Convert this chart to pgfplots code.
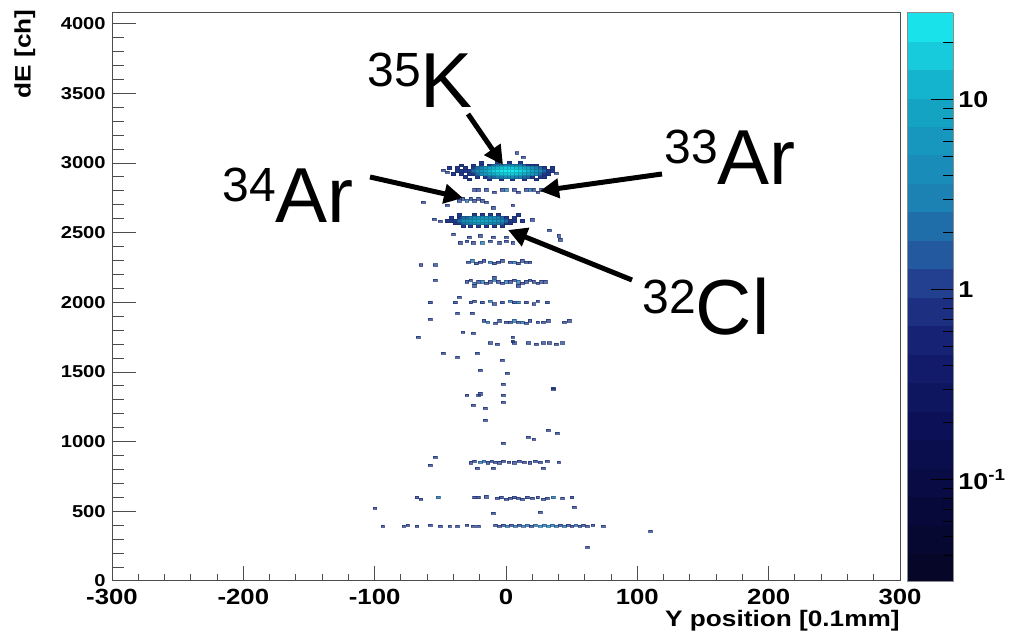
\documentclass[border=0pt]{standalone}
\usepackage{fontspec}
\usepackage{pgfplots}
\usepackage{pgfplotstable}
\pgfplotsset{compat=1.18}
\usetikzlibrary{arrows.meta}
\setmainfont{Liberation Sans}
\newfontfamily\rootfont{Liberation Sans}[FakeStretch=1.17]
\newcommand\rootb[1]{\rootfont\bfseries\fontsize{#1}{#1}\selectfont}

\pgfplotsset{
  colormap={rootbase}{rgb(0cm)=(0.02,0.02,0.14) rgb(1.5cm)=(0.03,0.04,0.25)
    rgb(2.9cm)=(0.05,0.07,0.35) rgb(4.1cm)=(0.08,0.12,0.44) rgb(5.1cm)=(0.13,0.22,0.54)
    rgb(5.7cm)=(0.14,0.34,0.62) rgb(6.7cm)=(0.11,0.5,0.7) rgb(8.5cm)=(0.08,0.66,0.78)
    rgb(10cm)=(0.1,0.93,0.95)},
}

% sparse bins (count n per bin)
\pgfplotstableread[row sep=\\]{
x y n\\
-40 2490 1\\ -28 2470 1\\ -20 2480 1\\ -10 2470 1\\ 0 2470 1\\ 8 2490 1\\ 13 2470 1\\ 40 2480 1\\
-35 2430 1\\ -30 2440 1\\ -25 2430 1\\ -18 2430 2\\ -12 2440 1\\ -5 2430 1\\ 0 2440 1\\ 5 2430 1\\ 41 2450 1\\
-65 2270 1\\ -54 2270 1\\ -29 2290 1\\ -26 2300 2\\ -23 2280 1\\ -20 2290 1\\ -17 2300 1\\ -12 2290 2\\
-9 2280 1\\ -6 2290 1\\ -3 2300 1\\ 3 2290 1\\ 6 2290 2\\ 9 2280 1\\ 12 2300 1\\ 15 2290 1\\ 18 2290 1\\
-54 2160 1\\ -30 2150 1\\ -27 2160 1\\ -24 2140 2\\ -21 2150 1\\ -18 2150 2\\ -15 2140 1\\ -12 2150 1\\
-9 2160 2\\ -6 2150 1\\ -3 2140 1\\ 0 2150 2\\ 3 2150 1\\ 6 2160 1\\ 9 2150 2\\ 12 2140 1\\ 15 2150 1\\
18 2160 1\\ 21 2150 1\\ 24 2140 1\\ 27 2150 1\\ 30 2150 1\\ -24 2120 1\\ -9 2180 1\\ 9 2120 1\\
-39 2000 1\\ -36 2040 1\\ -27 2000 1\\ -24 2010 1\\ -18 2000 1\\ -12 2010 2\\ -9 1990 1\\ -3 2000 1\\
3 2010 2\\ 6 2000 1\\ 9 2000 2\\ 15 2000 1\\ 21 1990 1\\ 24 2010 1\\ 31 2000 1\\ -58 2000 1\\ -37 1925 1\\ -26 1925 1\\
-17 1870 1\\ -14 1860 2\\ -8 1850 1\\ -5 1870 1\\ 0 1860 1\\ 3 1860 1\\ 6 1870 2\\ 9 1860 1\\ 12 1860 2\\
15 1850 1\\ 18 1870 1\\ 24 1860 1\\ 28 1860 1\\ 32 1870 1\\ 44 1860 1\\ 48 1870 1\\ -58 1880 1\\
-12 1710 1\\ -7 1700 1\\ 6 1710 1\\ 17 1710 1\\ 23 1700 1\\ 28 1710 1\\ 33 1710 1\\ 38 1700 1\\ 43 1710 1\\
-67 1752 1\\ -33 1788 1\\ -25 1780 1\\ 5 1752 1\\ 5 1720 1\\
-48 1637 1\\ -37 1608 1\\ -22 1637 1\\ -3 1587 1\\ -20 1515 1\\ 1 1494 1\\ 36 1386 1\\ -2 1415 1\\ 36 1379 1\\
-30 1336 1\\ -21 1336 1\\ -20 1345 1\\ -2 1336 1\\ -25 1264 1\\ -16 1242 1\\ -2 1285 1\\ -16 1156 1\\
32 1084 1\\ 39 1063 1\\ 17 1034 1\\ 21 1020 1\\ -2 991 1\\
-54 890 1\\ -58 833 1\\ -27 850 1\\ -24 860 1\\ -20 855 2\\ -17 860 2\\ -14 850 1\\ -11 860 1\\ -8 855 1\\
-5 850 1\\ -2 860 1\\ 2 855 1\\ 6 850 1\\ 10 860 1\\ 14 855 1\\ 18 850 1\\ 22 860 1\\ 26 855 1\\ 31 860 1\\
40 855 1\\ -22 812 1\\ -10 812 1\\ 28 812 1\\
-68 600 1\\ -65 590 1\\ -52 600 2\\ -24 600 1\\ -21 600 1\\ -15 606 1\\ -7 596 1\\ -4 600 1\\ 0 590 1\\
3 596 1\\ 6 600 1\\ 9 596 1\\ 12 590 1\\ 16 600 1\\ 20 596 1\\ 24 600 1\\ 28 590 1\\ 31 596 1\\ 36 600 2\\
43 596 1\\ 50 600 1\\ 52 531 1\\ -10 488 1\\ 26 495 1\\ -100 524 1\\
-94 395 1\\ -78 395 1\\ -75 400 1\\ -68 395 1\\ -58 400 1\\ -50 395 1\\ -43 395 1\\ -37 395 1\\ -30 400 1\\
-25 395 1\\ -21 395 1\\ -8 400 1\\ -5 395 1\\ -2 400 1\\ 1 395 2\\ 4 400 1\\ 7 395 2\\ 10 400 1\\ 13 395 2\\
16 400 2\\ 19 395 1\\ 22 400 2\\ 26 395 3\\ 29 400 2\\ 32 395 3\\ 35 400 2\\ 38 395 2\\ 41 400 1\\ 44 395 2\\
47 400 1\\ 50 395 1\\ 53 400 2\\ 56 395 1\\ 59 400 1\\ 62 395 1\\ 66 400 1\\ 74 395 1\\ 62 244 1\\ 110 360 1\\
-24 2810 1\\ -21 2810 1\\ -15 2810 1\\ -9 2790 1\\ -3 2810 1\\ 0 2810 2\\ 6 2810 1\\ 9 2790 1\\ 15 2810 1\\
18 2810 2\\ 21 2810 1\\ 24 2790 1\\ 27 2810 1\\
-36 2730 1\\ -33 2745 1\\ -30 2730 2\\ -27 2745 1\\ -24 2730 1\\ -21 2745 1\\ -18 2730 1\\ -15 2720 1\\
-63 2722 1\\ -45 2700 1\\ -10 2680 1\\ 5 2700 1\\
-55 2600 1\\ -50 2585 1\\ 20 2595 1\\ 13 2520 1\\ 33 2520 1\\
-48 2950 1\\ -45 2937 1\\ 8 3074 1\\ 13 3045 1\\ 38 2930 1\\
}\sparse

% 32Cl peak
\pgfplotstableread[row sep=\\]{
x y n\\
-33 2550 1\\ -27 2550 1\\ -21 2550 1\\ -15 2550 1\\ -9 2550 1\\ -3 2550 1\\
-36 2630 1\\ -24 2630 1\\ -18 2630 1\\ -12 2630 1\\ -6 2630 1\\ 9 2630 1\\
-39 2570 1\\ -36 2570 1\\ -33 2570 2\\ -30 2570 3\\ -27 2570 3\\ -24 2570 4\\ -21 2570 5\\ -18 2570 5\\
-15 2570 5\\ -12 2570 4\\ -9 2570 3\\ -6 2570 3\\ -3 2570 2\\ 0 2570 1\\ 3 2570 1\\
-42 2610 1\\ -36 2610 1\\ -33 2610 2\\ -30 2610 2\\ -27 2610 3\\ -24 2610 4\\ -21 2610 5\\ -18 2610 5\\
-15 2610 5\\ -12 2610 4\\ -9 2610 4\\ -6 2610 3\\ -3 2610 2\\ 0 2610 1\\ 6 2610 1\\
-45 2590 1\\ -42 2590 1\\ -39 2590 1\\ -36 2590 2\\ -33 2590 4\\ -30 2590 5\\ -27 2590 6\\ -24 2590 8\\
-21 2590 9\\ -18 2590 9\\ -15 2590 9\\ -12 2590 8\\ -9 2590 6\\ -6 2590 5\\ -3 2590 4\\ 0 2590 2\\
3 2590 1\\ 6 2590 1\\ 12 2590 1\\
}\clpeak

% 35K peak
\pgfplotstableread[row sep=\\]{
x y n\\
-28 2885 1\\ -13 2885 1\\ -4 2885 1\\ 5 2885 1\\ 14 2885 1\\ 23 2885 1\\
-19 3005 1\\ -7 3005 1\\ 2 3005 1\\ 11 3005 1\\
-31 2905 1\\ -22 2905 1\\ -16 2905 1\\ -13 2905 2\\ -10 2905 2\\ -7 2905 3\\ -4 2905 3\\ -1 2905 4\\
2 2905 4\\ 5 2905 4\\ 8 2905 3\\ 11 2905 3\\ 14 2905 2\\ 17 2905 2\\ 20 2905 1\\ 26 2905 1\\ 29 2905 1\\
-34 2985 1\\ -25 2985 1\\ -19 2985 1\\ -13 2985 1\\ -10 2985 2\\ -7 2985 3\\ -4 2985 3\\ -1 2985 4\\
2 2985 4\\ 5 2985 3\\ 8 2985 3\\ 11 2985 3\\ 14 2985 2\\ 17 2985 1\\ 20 2985 1\\ 23 2985 1\\
-40 2925 1\\ -34 2925 1\\ -28 2925 1\\ -25 2925 1\\ -22 2925 2\\ -19 2925 4\\ -16 2925 6\\ -13 2925 8\\
-10 2925 10\\ -7 2925 13\\ -4 2925 15\\ -1 2925 16\\ 2 2925 17\\ 5 2925 16\\ 8 2925 15\\ 11 2925 13\\
14 2925 10\\ 17 2925 8\\ 20 2925 6\\ 23 2925 4\\ 26 2925 2\\ 29 2925 1\\ 32 2925 1\\
-43 2965 1\\ -37 2965 1\\ -31 2965 1\\ -25 2965 1\\ -22 2965 2\\ -19 2965 3\\ -16 2965 6\\ -13 2965 8\\
-10 2965 11\\ -7 2965 13\\ -4 2965 15\\ -1 2965 17\\ 2 2965 17\\ 5 2965 16\\ 8 2965 14\\ 11 2965 12\\
14 2965 10\\ 17 2965 8\\ 20 2965 5\\ 23 2965 3\\ 26 2965 2\\ 29 2965 1\\ 35 2965 1\\
-37 2945 1\\ -34 2945 1\\ -31 2945 1\\ -28 2945 1\\ -25 2945 2\\ -22 2945 4\\ -19 2945 6\\ -16 2945 9\\
-13 2945 13\\ -10 2945 17\\ -7 2945 21\\ -4 2945 25\\ -1 2945 27\\ 2 2945 28\\ 5 2945 27\\ 8 2945 25\\
11 2945 21\\ 14 2945 17\\ 17 2945 13\\ 20 2945 9\\ 23 2945 6\\ 26 2945 4\\ 29 2945 2\\ 32 2945 1\\ 35 2945 1\\
}\kpeak

\begin{document}
\begin{tikzpicture}
\begin{axis}[
  at={(56pt,30pt)}, anchor=south west,
  width=394pt, height=284.2pt, scale only axis,
  xmin=-300, xmax=300, ymin=0, ymax=4080,
  axis on top,
  axis line style={black!70, line width=0.5pt},
  tick style={black!70, line width=0.5pt},
  tick align=inside, tick pos=left,
  xtick={-300,-200,...,300}, minor x tick num=4,
  xticklabels={-300,-200,-100,0,100,200,300},
  ymajorticks=false, yminorticks=false,
  major tick length=7.5pt, minor tick length=3.5pt,
  xticklabel style={font={\rootb{11}}, inner sep=0pt, yshift=-4pt},
  xlabel={Y position [0.1mm]},
  xlabel style={at={([yshift=-22.65pt]rel axis cs:1,0)}, anchor=base east, inner sep=0pt, font={\rootb{11.2}}},
  ylabel={dE [ch]},
  ylabel style={at={([xshift=-40.75pt,yshift=1.75pt]rel axis cs:0,1)}, anchor=base east, inner sep=0pt, font={\rootb{11.2}}},
  colormap name=rootbase,
  point meta min=-1.537, point meta max=1.458,
  colorbar sampled,
  colorbar style={
    at={(parent axis.north east)}, anchor=north west, xshift=-5.04pt,
    width=23pt, height=284.6pt, scale only axis, samples=21,
    axis line style={black!45, line width=0.4pt},
    tick style={black, line width=0.5pt},
    tick align=inside, ytick pos=right, yticklabel pos=right,
    major tick length=11pt, minor tick length=5pt,
    ytick={-1,0,1}, yticklabels={10\textsuperscript{-1},1,10},
    minor ytick={-1.39794,-1.30103,-1.22185,-1.15490,-1.09691,-1.04576,
      -0.69897,-0.52288,-0.39794,-0.30103,-0.22185,-0.15490,-0.09691,-0.04576,
      0.30103,0.47712,0.60206,0.69897,0.77815,0.84510,0.90309,0.95424,1.30103},
    yticklabel style={font={\rootb{11.5}}, inner sep=0pt, anchor=west, xshift=2.5pt},
  },
]
\addplot[scatter, only marks, mark=square*, mark size=0.95pt,
  mark options={yscale=0.62, line width=0.1pt, opacity=0.72},
  point meta={log10(\thisrow{n})}] table[x=x, y=y] {\sparse};
\addplot[scatter, only marks, mark=square*, mark size=1pt,
  mark options={yscale=0.72, line width=0.1pt},
  point meta={log10(\thisrow{n})}] table[x=x, y=y] {\clpeak};
\addplot[scatter, only marks, mark=square*, mark size=1pt,
  mark options={yscale=0.72, line width=0.1pt},
  point meta={log10(\thisrow{n})}] table[x=x, y=y] {\kpeak};
\end{axis}
% y ticks (longer than the x ticks, as in ROOT)
\begin{axis}[
  at={(56pt,30pt)}, anchor=south west,
  width=394pt, height=284.2pt, scale only axis,
  xmin=-300, xmax=300, ymin=0, ymax=4080,
  axis line style={black!70, line width=0.5pt},
  tick style={black!70, line width=0.5pt},
  tick align=inside, tick pos=left,
  xmajorticks=false, xminorticks=false,
  ytick={0,500,...,4000}, minor y tick num=4,
  yticklabels={0,500,1000,1500,2000,2500,3000,3500,4000},
  major tick length=12pt, minor tick length=6pt,
  yticklabel style={font={\rootb{8.6}}, inner sep=0pt, anchor=east, xshift=-3pt},
]
\end{axis}
% annotations, in image pixels
\begin{scope}[x=0.5pt, y=-0.5pt, shift={(0pt,320.5pt)}]
  \draw[line width=2.5pt, -{Triangle[length=9.5pt,width=9.5pt]}] (468,114) -- (503,165);
  \draw[line width=2.5pt, -{Triangle[length=9.5pt,width=9.5pt]}] (370,177) -- (463,198);
  \draw[line width=2.5pt, -{Triangle[length=9.5pt,width=9.5pt]}] (662,174) -- (540,191);
  \draw[line width=2.5pt, -{Triangle[length=9.5pt,width=9.5pt]}] (632,280) -- (508,230);
  \node[anchor=base west, inner sep=0pt, font=\fontsize{39}{39}\selectfont] at (367,108)
    {\raisebox{10.7pt}{\fontsize{24}{24}\selectfont 35}K};
  \node[anchor=base west, inner sep=0pt, font=\fontsize{39}{39}\selectfont] at (222,223)
    {\raisebox{10.7pt}{\fontsize{24}{24}\selectfont 34}Ar};
  \node[anchor=base west, inner sep=0pt, font=\fontsize{39}{39}\selectfont] at (664,185)
    {\raisebox{10.7pt}{\fontsize{24}{24}\selectfont 33}Ar};
  \node[anchor=base west, inner sep=0pt, font=\fontsize{39}{39}\selectfont] at (642,335)
    {\raisebox{10.7pt}{\fontsize{24}{24}\selectfont 32}Cl};
\end{scope}
\pgfresetboundingbox
\useasboundingbox (0,0) rectangle (505pt,320.5pt);
\end{tikzpicture}
\end{document}
